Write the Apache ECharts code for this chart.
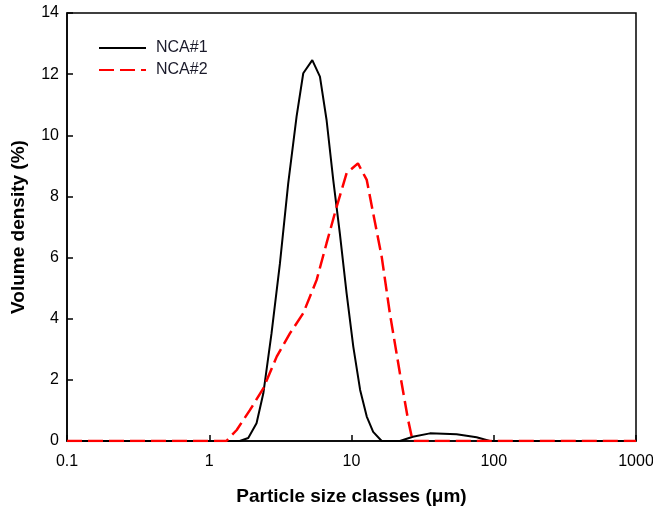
<!DOCTYPE html>
<html>
<head>
<meta charset="utf-8">
<script src="https://cdn.jsdelivr.net/npm/echarts@6/dist/echarts.min.js"></script>
<style>
  html, body { margin: 0; padding: 0; background: #fff; }
  #chart { width: 653px; height: 510px; }
</style>
</head>
<body>
<div id="chart"></div>
<script>
// particle size (um) and volume density (%)
var sizes1 = [0.1, 1.64, 1.88, 2.15, 2.40, 2.74, 3.14, 3.59, 4.11, 4.58, 5.30, 6.0, 6.68, 7.44, 8.28, 9.24, 10.3, 11.5, 12.8, 14.2, 16.3, 21.9, 27, 35.6, 54.8, 75.7, 94, 1000]
var nca1 = [0, 0, 0.1, 0.58, 1.56, 3.52, 5.81, 8.43, 10.61, 12.03, 12.46, 11.92, 10.5, 8.54, 6.79, 4.83, 3.08, 1.67, 0.8, 0.3, 0, 0, 0.14, 0.25, 0.22, 0.12, 0, 0]

var sizes2 = [0.1, 1.32, 1.56, 1.93, 2.40, 2.98, 3.69, 4.58, 5.69, 6.68, 7.86, 9.24, 11.1, 12.8, 14.2, 16.3, 18.6, 21.9, 25.0, 26.9, 1000]
var nca2 = [0, 0, 0.36, 1.01, 1.72, 2.76, 3.52, 4.18, 5.27, 6.47, 7.66, 8.76, 9.08, 8.54, 7.45, 6.03, 4.18, 2.21, 0.69, 0, 0]

function pairs(xs, ys) {
  var out = []
  xs.forEach(function (x, i) { out.push([x, ys[i]]) })
  return out
}

var myChart = echarts.init(document.getElementById('chart'))
var font = 'Liberation Sans, Arial, sans-serif'

myChart.setOption({
  animation: false,
  backgroundColor: '#fff',
  textStyle: { fontFamily: font },
  grid: {
    left: 67, right: 17, top: 13, bottom: 69,
    outerBoundsMode: 'none',
    containLabel: false,
    show: true,
    borderColor: '#000',
    borderWidth: 1.5
  },
  legend: {
    left: 93, top: 35,
    orient: 'vertical',
    itemWidth: 47,
    itemHeight: 14,
    itemGap: 6,
    itemStyle: { opacity: 0 },
    textStyle: { fontSize: 16, color: '#1a1a2a', fontFamily: font, padding: [0, 0, 0, 5] },
    data: ['NCA#1', 'NCA#2']
  },
  xAxis: {
    type: 'log',
    logBase: 10,
    min: 0.1,
    max: 1000,
    name: 'Particle size classes (\u03bcm)',
    nameLocation: 'middle',
    nameGap: 46,
    nameTextStyle: { fontSize: 19, fontWeight: 'bold', color: '#000', fontFamily: font },
    axisLine: { lineStyle: { color: '#000', width: 1.5 } },
    axisTick: { inside: true, length: 6, lineStyle: { color: '#000', width: 1.5 } },
    minorTick: { show: false },
    splitLine: { show: false },
    axisLabel: {
      fontSize: 16, color: '#000', margin: 13, fontFamily: font,
      formatter: function (v) { return String(v) }
    }
  },
  yAxis: {
    type: 'value',
    min: 0,
    max: 14,
    interval: 2,
    name: 'Volume density (%)',
    nameLocation: 'middle',
    nameGap: 39,
    nameTextStyle: { fontSize: 19, fontWeight: 'bold', color: '#000', fontFamily: font },
    axisLine: { show: true, lineStyle: { color: '#000', width: 1.5 } },
    axisTick: { show: true, inside: true, length: 6, lineStyle: { color: '#000', width: 1.5 } },
    splitLine: { show: false },
    axisLabel: { fontSize: 16, color: '#000', margin: 8, fontFamily: font }
  },
  series: [{
    name: 'NCA#1',
    type: 'line',
    data: pairs(sizes1, nca1),
    symbol: 'none',
    lineStyle: { color: '#000', width: 2 },
    itemStyle: { color: '#000' }
  }, {
    name: 'NCA#2',
    type: 'line',
    data: pairs(sizes2, nca2),
    symbol: 'none',
    lineStyle: { color: '#ff0000', width: 2.5, type: [15, 6] },
    itemStyle: { color: '#ff0000' }
  }]
})
</script>
</body>
</html>
